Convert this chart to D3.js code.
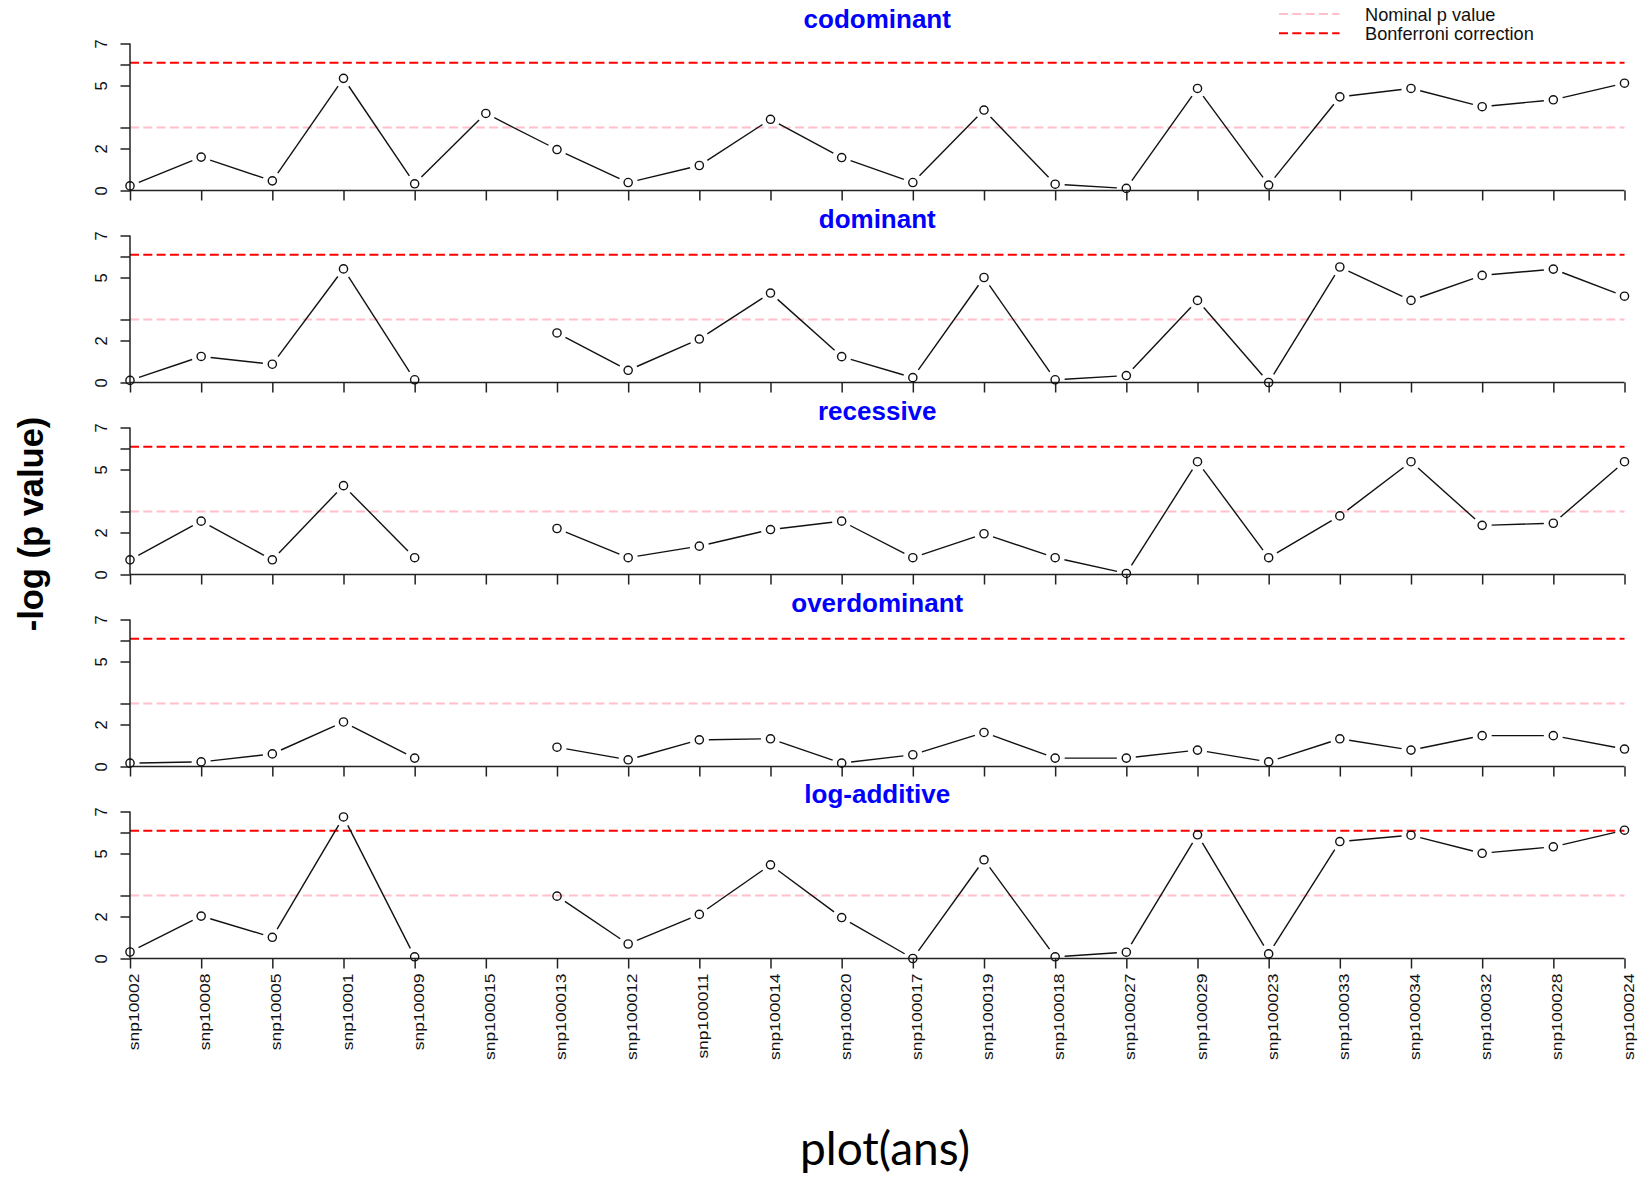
<!DOCTYPE html>
<html>
<head>
<meta charset="utf-8">
<script src="https://cdn.jsdelivr.net/npm/d3@7"></script>
<style>
  html, body { margin: 0; padding: 0; background: #fff; }
  svg { display: block; }
</style>
</head>
<body>
<svg id="chart" width="1641" height="1179"></svg>
<script>
// ---------------- data ----------------
const snps = ["snp10002","snp10008","snp10005","snp10001","snp10009","snp100015","snp100013","snp100012","snp100011","snp100014","snp100020","snp100017","snp100019","snp100018","snp100027","snp100029","snp100023","snp100033","snp100034","snp100032","snp100028","snp100024"];

const models = ["codominant","dominant","recessive","overdominant","log-additive"];

const codominant   = [0.22,1.59,0.46,5.34,0.32,3.67,1.95,0.38,1.19,3.39,1.57,0.38,3.83,0.30,0.10,4.86,0.26,4.46,4.86,3.99,4.32,5.11];
const dominant     = [0.10,1.24,0.87,5.41,0.13,null,2.36,0.58,2.07,4.26,1.23,0.23,5.00,0.13,0.33,3.91,0.00,5.50,3.91,5.10,5.40,4.11];
const recessive    = [0.70,2.54,0.70,4.23,0.80,null,2.19,0.80,1.35,2.14,2.54,0.80,1.94,0.80,0.05,5.37,0.80,2.79,5.37,2.34,2.44,5.37];
const overdominant = [0.16,0.22,0.60,2.12,0.40,null,0.92,0.32,1.27,1.32,0.16,0.56,1.62,0.40,0.40,0.78,0.22,1.32,0.78,1.47,1.47,0.83];
const logAdditive  = [0.31,2.02,1.01,6.74,0.08,null,2.97,0.69,2.10,4.46,1.95,0.00,4.70,0.08,0.30,5.89,0.22,5.57,5.87,5.01,5.32,6.11];

const seriesList = [codominant, dominant, recessive, overdominant, logAdditive];

const nominalLevel = -Math.log(0.05);          // ~2.996
const bonferroniLevel = -Math.log(0.05 / 22);  // ~6.087

const yTicks = [0, 2, 3, 5, 6, 7];
const yTickLabels = [0, 2, 5, 7];
const yDomain = [0, 7];

const legendLabels = ["Nominal p value", "Bonferroni correction"];

// ---------------- layout ----------------
const svg = d3.select("#chart");
const xLeft = 130, xRight = 1624.5;
const panelTop0 = 43.5, panelStep = 192, panelH = 147;
const titleBaselines = [28.3, 227.5, 419.5, 611.5, 803];
const gap = 9.5;

const x = d3.scalePoint().domain(snps).range([xLeft, xRight]);

models.forEach((m, i) => {
  const top = panelTop0 + i * panelStep;
  const bottom = top + panelH;
  const y = d3.scaleLinear().domain(yDomain).range([bottom, top]);
  const g = svg.append("g");

  // reference lines
  g.append("line")
    .attr("x1", xLeft).attr("x2", xRight)
    .attr("y1", y(nominalLevel)).attr("y2", y(nominalLevel))
    .attr("stroke", "#ffc0cb").attr("stroke-width", 2)
    .attr("stroke-dasharray", "9,4.3");
  g.append("line")
    .attr("x1", xLeft).attr("x2", xRight)
    .attr("y1", y(bonferroniLevel)).attr("y2", y(bonferroniLevel))
    .attr("stroke", "#ff0000").attr("stroke-width", 2)
    .attr("stroke-dasharray", "9,4.3");

  // y axis
  const yAxis = d3.axisLeft(y).tickValues(yTicks).tickSize(9.5)
    .tickFormat(d => yTickLabels.includes(d) ? d : "");
  const ya = g.append("g").attr("transform", `translate(${xLeft},0)`).call(yAxis);
  ya.select(".domain").attr("stroke", "#222").attr("stroke-width", 1.5).attr("d", `M0,${y(7)}V${y(0)}`);
  ya.selectAll(".tick line").attr("stroke", "#222").attr("stroke-width", 1.5);
  ya.selectAll(".tick text")
    .attr("x", null).attr("dy", null)
    .attr("transform", "translate(-23,0) rotate(-90)")
    .attr("text-anchor", "middle")
    .attr("font-family", "Liberation Sans, Arial, sans-serif")
    .attr("font-size", 16.5).attr("fill", "#111");

  // x axis
  const xAxis = d3.axisBottom(x).tickSize(10).tickFormat(i === models.length - 1 ? (d => d) : () => "");
  const xa = g.append("g").attr("transform", `translate(0,${y(0)})`).call(xAxis);
  xa.select(".domain").attr("stroke", "#222").attr("stroke-width", 1.5).attr("d", `M${xLeft},0H${xRight}`);
  xa.selectAll(".tick line").attr("stroke", "#222").attr("stroke-width", 1.5);
  xa.selectAll(".tick text")
    .attr("y", null).attr("dy", null)
    .attr("transform", "translate(8.5,15) rotate(-90) scale(1.15,1)")
    .attr("text-anchor", "end")
    .attr("font-family", "Liberation Sans, Arial, sans-serif")
    .attr("font-size", 15.2).attr("fill", "#111");

  // data
  const vals = seriesList[i];
  const pts = snps.map((s, k) => ({ s, v: vals[k] }));
  for (let k = 0; k < pts.length - 1; k++) {
    const a = pts[k], b = pts[k + 1];
    if (a.v == null || b.v == null) continue;
    const x1 = x(a.s), y1 = y(a.v), x2 = x(b.s), y2 = y(b.v);
    const len = Math.hypot(x2 - x1, y2 - y1);
    if (len <= 2 * gap) continue;
    const ux = (x2 - x1) / len, uy = (y2 - y1) / len;
    g.append("line")
      .attr("x1", x1 + ux * gap).attr("y1", y1 + uy * gap)
      .attr("x2", x2 - ux * gap).attr("y2", y2 - uy * gap)
      .attr("stroke", "#111").attr("stroke-width", 1.4);
  }
  g.selectAll("circle.pt").data(pts.filter(p => p.v != null)).enter()
    .append("circle").attr("class", "pt")
    .attr("cx", d => x(d.s)).attr("cy", d => y(d.v)).attr("r", 4.1)
    .attr("fill", "none").attr("stroke", "#111").attr("stroke-width", 1.4);

  // title
  svg.append("text")
    .attr("x", (xLeft + xRight) / 2).attr("y", titleBaselines[i])
    .attr("text-anchor", "middle")
    .attr("font-family", "Liberation Sans, Arial, sans-serif")
    .attr("font-weight", "bold").attr("font-size", 26)
    .attr("fill", "#0000ff")
    .text(m);
});

// legend
const legend = svg.append("g");
const legColors = ["#ffc0cb", "#ff0000"];
const legY = [14, 33.3];
legendLabels.forEach((lab, k) => {
  legend.append("line")
    .attr("x1", 1279).attr("x2", 1339.5)
    .attr("y1", legY[k]).attr("y2", legY[k])
    .attr("stroke", legColors[k]).attr("stroke-width", 2)
    .attr("stroke-dasharray", "9,4.3");
  legend.append("text")
    .attr("x", 1365).attr("y", legY[k] + 6.7)
    .attr("font-family", "Liberation Sans, Arial, sans-serif")
    .attr("font-size", 18.2).attr("fill", "#111")
    .text(lab);
});

// y axis title
svg.append("text")
  .attr("transform", "translate(43,524) rotate(-90)")
  .attr("text-anchor", "middle")
  .attr("font-family", "Liberation Sans, Arial, sans-serif")
  .attr("font-weight", "bold").attr("font-size", 34.5)
  .attr("fill", "#000")
  .text("-log (p value)");

// bottom caption
svg.append("text")
  .attr("x", 885).attr("y", 1165)
  .attr("text-anchor", "middle")
  .attr("font-family", "Lato, Carlito, sans-serif")
  .attr("font-size", 46).attr("fill", "#000")
  .text("plot(ans)");
</script>
</body>
</html>
